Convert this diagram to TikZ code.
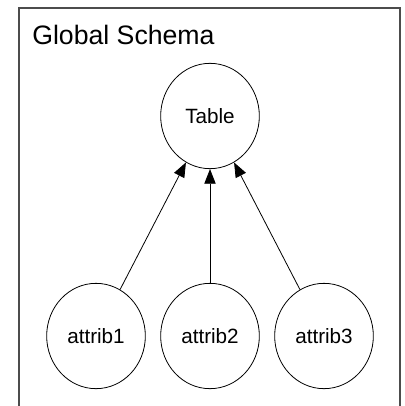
\documentclass[tikz,border=0pt]{standalone}
\usepackage{fontspec}
\setmainfont{Liberation Sans}
\usetikzlibrary{shapes.geometric,arrows.meta}
\begin{document}
\begin{tikzpicture}[x=0.75pt,y=-0.75pt,
  entity/.style={ellipse,draw=black,line width=0.6pt,minimum width=74pt,minimum height=79pt,inner sep=0pt,font=\fontsize{15.5}{18}\selectfont},
  link/.style={draw=black,line width=0.6pt,-{Triangle[length=11pt,width=8.5pt]}}]
  \useasboundingbox (0,0) rectangle (404,406);
  % schema frame, open at the bottom edge
  \draw[line width=0.9pt,draw=black!70] (19,416) -- (19,8) -- (400,8) -- (400,416);
  \node[anchor=base west,font=\fontsize{20}{24}\selectfont,inner sep=0pt] (title) at (32,45) {Global Schema};
  \node[entity] (table) at (210,116) {Table};
  \node[entity] (a1) at (96,336) {attrib1};
  \node[entity] (a2) at (210,336) {attrib2};
  \node[entity] (a3) at (324,336) {attrib3};
  \draw[link] (a1) -- (table);
  \draw[link] (a2) -- (table);
  \draw[link] (a3) -- (table);
\end{tikzpicture}
\end{document}
